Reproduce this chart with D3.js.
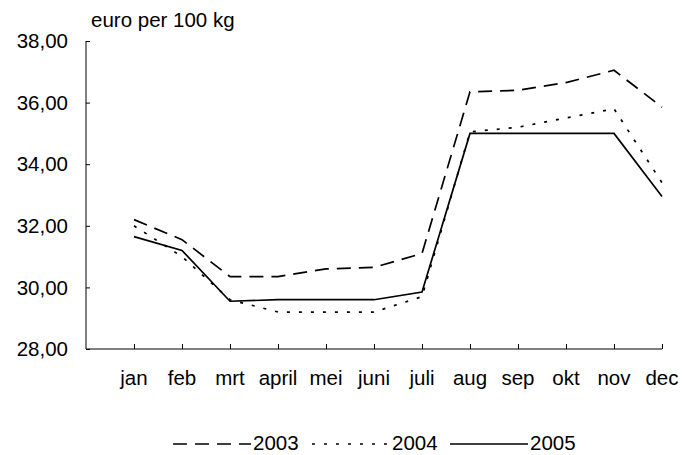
<!DOCTYPE html>
<html>
<head>
<meta charset="utf-8">
<script src="https://cdn.jsdelivr.net/npm/d3@7"></script>
<style>
  body { margin: 0; background: #fff; }
  text { font-family: "Liberation Sans", Arial, sans-serif; fill: #000; }
</style>
</head>
<body>
<div id="chart"></div>
<script>
// months and prices (euro per 100 kg)
var months = ["jan", "feb", "mrt", "april", "mei", "juni", "juli", "aug", "sep", "okt", "nov", "dec"];
var years = ["2003", "2004", "2005"];
var v2003 = [32.2, 31.55, 30.35, 30.35, 30.6, 30.65, 31.1, 36.35, 36.4, 36.65, 37.05, 35.85];
var v2004 = [32.0, 31.0, 29.6, 29.2, 29.2, 29.2, 29.7, 35.05, 35.2, 35.5, 35.8, 33.4];
var v2005 = [31.65, 31.2, 29.55, 29.6, 29.6, 29.6, 29.85, 35.0, 35.0, 35.0, 35.0, 32.95];
var yTicks = [28, 30, 32, 34, 36, 38];

var svgWidth = 683;
var svgHeight = 455;
var fontSize = "20.5px";

var svg = d3.select("#chart")
  .append("svg")
  .attr("width", svgWidth)
  .attr("height", svgHeight);

// plot area
var x0 = 86, x1 = 662, yTop = 41, yBottom = 349;

var xScale = d3.scaleLinear()
  .domain([0, months.length])
  .range([x0, x1]);

var yScale = d3.scaleLinear()
  .domain([28, 38])
  .range([yBottom, yTop]);

var fmt = function(d) { return d3.format(".2f")(d).replace(".", ","); };

// y axis, ticks pointing inward
var yAxis = svg.append("g")
  .attr("transform", `translate(${x0}, 0)`)
  .call(d3.axisRight(yScale).tickValues(yTicks).tickSize(4).tickFormat(""));
yAxis.select(".domain").attr("stroke", "#000").attr("d", `M0,${yTop}V${yBottom}`);
yAxis.selectAll("line").attr("stroke", "#000");

svg.append("g").selectAll("text")
  .data(yTicks)
  .enter()
  .append("text")
  .attr("x", 68)
  .attr("y", d => yScale(d))
  .attr("dy", "0.35em")
  .attr("text-anchor", "end")
  .style("font-size", fontSize)
  .text(fmt);

// x axis, ticks pointing up
var xAxis = svg.append("g")
  .attr("transform", `translate(0, ${yBottom})`)
  .call(d3.axisTop(xScale).tickValues(d3.range(1, months.length + 1)).tickSize(5).tickFormat(""));
xAxis.select(".domain").attr("stroke", "#000").attr("d", `M${x0},0H${x1}`);
xAxis.selectAll("line").attr("stroke", "#000");

svg.append("g").selectAll("text")
  .data(months)
  .enter()
  .append("text")
  .attr("x", (d, i) => xScale(i + 1))
  .attr("y", 385)
  .attr("text-anchor", "middle")
  .style("font-size", fontSize)
  .text(d => d);

// unit label
svg.append("text")
  .attr("x", 91)
  .attr("y", 27)
  .style("font-size", fontSize)
  .text("euro per 100 kg");

// series
var series = [
  { name: years[0], values: v2003, dash: "14,8" },
  { name: years[1], values: v2004, dash: "3,9" },
  { name: years[2], values: v2005, dash: null }
];

var line = d3.line()
  .x((d, i) => xScale(i + 1))
  .y(d => yScale(d));

svg.append("g").selectAll("path")
  .data(series)
  .enter()
  .append("path")
  .attr("d", d => line(d.values))
  .attr("fill", "none")
  .attr("stroke", "#000")
  .attr("stroke-width", 1.7)
  .attr("stroke-dasharray", d => d.dash);

// legend
var legendX = [173, 312, 450];
var legend = svg.append("g").selectAll("g")
  .data(series)
  .enter()
  .append("g")
  .attr("transform", (d, i) => `translate(${legendX[i]}, 444)`);

legend.append("line")
  .attr("x1", 0)
  .attr("x2", 78)
  .attr("stroke", "#000")
  .attr("stroke-width", 1.7)
  .attr("stroke-dasharray", d => d.dash);

legend.append("text")
  .attr("x", 80)
  .attr("y", 6)
  .style("font-size", fontSize)
  .text(d => d.name);
</script>
</body>
</html>
